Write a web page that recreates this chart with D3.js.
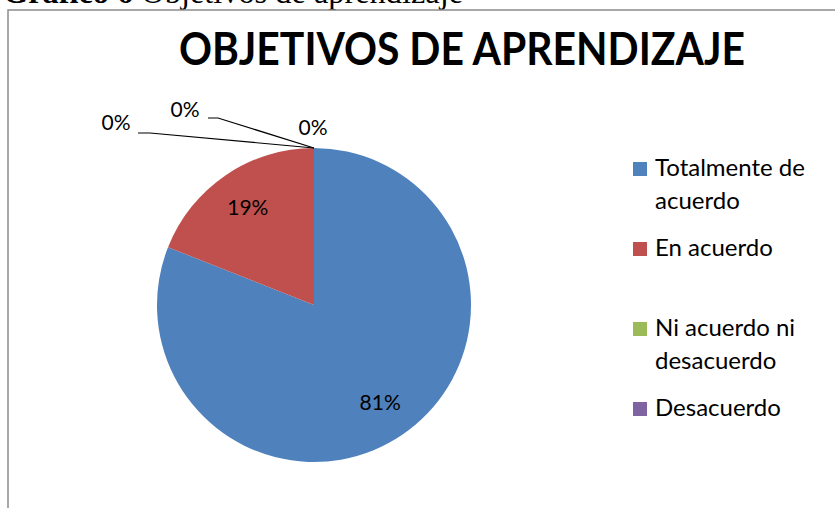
<!DOCTYPE html>
<html>
<head>
<meta charset="utf-8">
<script src="https://cdn.jsdelivr.net/npm/d3@7"></script>
<style>
  body { margin: 0; background: #fff; }
</style>
</head>
<body>
<div id="chartContainer"></div>
<script>
// Data
const categories = ['Totalmente de acuerdo', 'En acuerdo', 'Ni acuerdo ni desacuerdo', 'Desacuerdo'];
const legendLines = [['Totalmente de', 'acuerdo'], ['En acuerdo'], ['Ni acuerdo ni', 'desacuerdo'], ['Desacuerdo']];
const values = [81, 19, 0, 0];
const percentLabels = ['81%', '19%', '0%', '0%'];
const colors = ['#4F81BD', '#C0504D', '#9BBB59', '#8064A2'];

const width = 835;
const height = 508;
const center = { x: 314, y: 305 };
const radius = 157;

const svg = d3
  .select('#chartContainer')
  .append('svg')
  .attr('width', width)
  .attr('height', height);

// caption above the chart box (mostly cut off, as in the source page)
svg.append('text')
  .attr('x', 3)
  .attr('y', 3)
  .attr('textLength', 460)
  .attr('lengthAdjust', 'spacingAndGlyphs')
  .style('font-family', '"Liberation Serif", serif')
  .style('font-size', '31px')
  .html('<tspan font-weight="bold">Gráfico 6</tspan> Objetivos de aprendizaje');

// chart box
svg.append('rect')
  .attr('x', 8)
  .attr('y', 10)
  .attr('width', 840)
  .attr('height', 520)
  .attr('fill', '#fff')
  .attr('stroke', '#8c8c8c')
  .attr('stroke-width', 1.5);

// title
svg.append('text')
  .attr('x', 462)
  .attr('y', 65)
  .attr('text-anchor', 'middle')
  .attr('textLength', 566)
  .attr('lengthAdjust', 'spacingAndGlyphs')
  .style('font-family', 'Lato, sans-serif')
  .style('font-weight', 'bold')
  .style('font-size', '46px')
  .text('OBJETIVOS DE APRENDIZAJE');

const pie = d3.pie().sort(null).value(d => d);
const arcs = pie(values);
const arc = d3.arc().innerRadius(0).outerRadius(radius);

const g = svg.append('g').attr('transform', `translate(${center.x},${center.y})`);

g.selectAll('.slice')
  .data(arcs)
  .enter()
  .append('path')
  .attr('class', 'slice')
  .attr('d', arc)
  .attr('fill', (d, i) => colors[i]);

// labels for non-zero slices, placed inside
const labelArc = d3.arc().innerRadius(radius * 0.75).outerRadius(radius * 0.75);
g.selectAll('.pct')
  .data(arcs.filter(d => d.value > 0))
  .enter()
  .append('text')
  .attr('class', 'pct')
  .attr('x', d => labelArc.centroid(d)[0])
  .attr('y', d => labelArc.centroid(d)[1])
  .attr('dy', '0.35em')
  .attr('text-anchor', 'middle')
  .style('font-family', 'Lato, sans-serif')
  .style('font-size', '21px')
  .text(d => percentLabels[d.index]);

// zero-value labels sit outside the pie top, with leader lines for the first two
const tip = arc.centroid({ startAngle: 0, endAngle: 0 }).map(v => v * 2);
const zeroPlace = [
  { tx: -198, ty: -182, line: [[-176, -172], [-164, -172]] },
  { tx: -129, ty: -195, line: [[-106, -187], [-96, -187]] },
  { tx: -1, ty: -177, line: null }
];
const zeroIdx = [2, 3, 3];

g.selectAll('.leader')
  .data(zeroPlace.filter(d => d.line))
  .enter()
  .append('polyline')
  .attr('class', 'leader')
  .attr('points', d => d.line.concat([tip]).map(p => p.join(',')).join(' '))
  .attr('fill', 'none')
  .attr('stroke', '#000')
  .attr('stroke-width', 1.2);

g.selectAll('.zero')
  .data(zeroPlace)
  .enter()
  .append('text')
  .attr('class', 'zero')
  .attr('x', d => d.tx)
  .attr('y', d => d.ty)
  .attr('dy', '0.35em')
  .attr('text-anchor', 'middle')
  .style('font-family', 'Lato, sans-serif')
  .style('font-size', '21px')
  .text((d, i) => percentLabels[zeroIdx[i]]);

// legend
const legendY = [162, 242, 322, 402];
const legend = svg.append('g').attr('transform', 'translate(633,0)');
const items = legend.selectAll('.legend-item')
  .data(categories)
  .enter()
  .append('g')
  .attr('class', 'legend-item')
  .attr('transform', (d, i) => `translate(0,${legendY[i]})`);
items.append('rect')
  .attr('width', 14)
  .attr('height', 14)
  .attr('fill', (d, i) => colors[i]);
items.each(function(d, i) {
  const t = d3.select(this).append('text')
    .style('font-family', 'Lato, sans-serif')
    .style('font-size', '24px')
    .attr('fill', '#000');
  legendLines[i].forEach((line, j) => {
    t.append('tspan').attr('x', 22).attr('y', 14 + j * 33).text(line);
  });
});
</script>
</body>
</html>
